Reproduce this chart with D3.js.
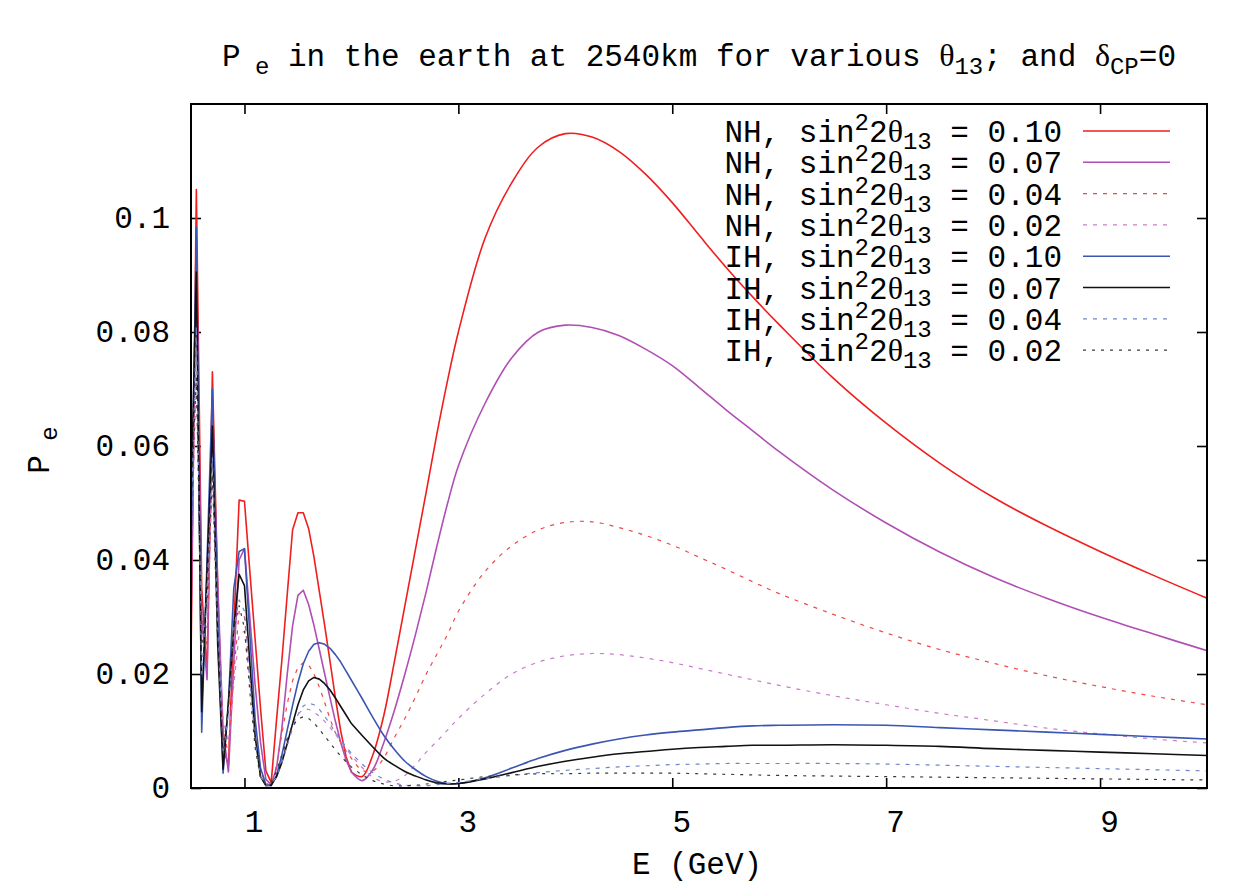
<!DOCTYPE html>
<html>
<head>
<meta charset="utf-8">
<script src="https://cdn.jsdelivr.net/npm/d3@7"></script>
<style>
  body { margin: 0; background: #fff; }
  text { font-family: 'Nimbus Mono PS', 'Courier New', 'Liberation Mono', monospace; white-space: pre; }
</style>
</head>
<body>
<div id="chart"></div>
<script>
const energy = [
  0.5, 0.55, 0.6, 0.65, 0.7, 0.75, 0.8, 0.85, 0.9, 0.95, 1.0, 1.05, 1.1, 1.15, 1.2, 1.25,
  1.3, 1.35, 1.4, 1.45, 1.5, 1.55, 1.6, 1.65, 1.7, 1.75, 1.8, 1.85, 1.9, 1.95, 2.0,
  2.1, 2.2, 2.3, 2.4, 2.5, 2.6, 2.7, 2.8, 2.9, 3.0,
  3.25, 3.5, 3.75, 4.0, 4.25, 4.5, 4.75, 5.0, 5.25, 5.5, 5.75, 6.0,
  6.5, 7.0, 7.5, 8.0, 8.5, 9.0, 9.5, 10
]

// P_e, normal hierarchy
const nh10 = [
  0.022, 0.105, 0.035, 0.020, 0.073, 0.035, 0.007, 0.004, 0.028, 0.0505, 0.0503, 0.038, 0.026, 0.014, 0.003, 0.001,
  0.012, 0.0225, 0.034, 0.0453, 0.0483, 0.0483, 0.0455, 0.0405, 0.0345, 0.0285, 0.0222, 0.0158, 0.0100, 0.0055, 0.0028,
  0.0020, 0.0058, 0.0125, 0.022, 0.032, 0.042, 0.052, 0.0622, 0.0716, 0.0800,
  0.0965, 0.1062, 0.1125, 0.1148, 0.1142, 0.1117, 0.1077, 0.1027, 0.0970, 0.0914, 0.0862, 0.0813,
  0.0720, 0.0640, 0.0570, 0.0510, 0.0460, 0.0415, 0.0373, 0.0333
]
const nh07 = [
  0.028, 0.094, 0.030, 0.019, 0.066, 0.036, 0.010, 0.0028, 0.022, 0.040, 0.042, 0.030, 0.018, 0.008, 0.0015, 0.0006,
  0.0035, 0.0105, 0.020, 0.0285, 0.0338, 0.0347, 0.0322, 0.0285, 0.0243, 0.020, 0.0158, 0.0117, 0.0080, 0.0049, 0.0028,
  0.0013, 0.0032, 0.0078, 0.0135, 0.020, 0.027, 0.0345, 0.0425, 0.050, 0.0565,
  0.0675, 0.0755, 0.0800, 0.0812, 0.0808, 0.0794, 0.0770, 0.0741, 0.0703, 0.0664, 0.0627, 0.0590,
  0.0523, 0.0465, 0.0414, 0.0370, 0.0333, 0.0300, 0.0270, 0.0241
]
const nh04 = [
  0.035, 0.083, 0.030, 0.025, 0.058, 0.030, 0.010, 0.006, 0.020, 0.031, 0.030, 0.020, 0.009, 0.003, 0.0008, 0.0005,
  0.004, 0.0095, 0.0148, 0.0188, 0.0212, 0.0220, 0.0216, 0.0200, 0.0177, 0.0150, 0.0121, 0.0097, 0.0080, 0.0065, 0.0052,
  0.0031, 0.0030, 0.0052, 0.0088, 0.0122, 0.016, 0.020, 0.0235, 0.027, 0.031,
  0.0380, 0.0425, 0.0453, 0.0466, 0.0467, 0.0457, 0.0443, 0.0426, 0.0405, 0.0384, 0.0362, 0.0341,
  0.0305, 0.0272, 0.0243, 0.0219, 0.0197, 0.0178, 0.0161, 0.0146
]
const nh02 = [
  0.040, 0.072, 0.030, 0.028, 0.055, 0.030, 0.012, 0.008, 0.018, 0.027, 0.0275, 0.019, 0.009, 0.003, 0.0007, 0.0004,
  0.002, 0.0052, 0.0085, 0.0112, 0.0130, 0.0138, 0.0138, 0.0133, 0.0126, 0.0117, 0.0106, 0.0094, 0.0082, 0.0069, 0.0057,
  0.0036, 0.0019, 0.0011, 0.0012, 0.0022, 0.0041, 0.0063, 0.0082, 0.0102, 0.0122,
  0.0165, 0.0200, 0.0221, 0.0232, 0.0236, 0.0234, 0.0228, 0.0220, 0.0210, 0.0200, 0.0190, 0.0180,
  0.0162, 0.0146, 0.0131, 0.0118, 0.0105, 0.0095, 0.0086, 0.0079
]

// P_e, inverted hierarchy
const ih10 = [
  0.040, 0.0984, 0.0098, 0.040, 0.070, 0.030, 0.0026, 0.015, 0.035, 0.0415, 0.042, 0.027, 0.012, 0.0035, 0.0006, 0.0004,
  0.0022, 0.0058, 0.0102, 0.0145, 0.0185, 0.0218, 0.0240, 0.0252, 0.0255, 0.0252, 0.0245, 0.0234, 0.0221, 0.0205, 0.0189,
  0.0157, 0.0124, 0.0093, 0.0068, 0.0047, 0.0032, 0.0020, 0.0012, 0.0008, 0.0008,
  0.0018, 0.0035, 0.0052, 0.0066, 0.0077, 0.0086, 0.0093, 0.0098, 0.0102, 0.0106, 0.0109, 0.0110,
  0.0111, 0.0110, 0.0106, 0.0102, 0.0098, 0.0094, 0.0090, 0.0086
]
const ih07 = [
  0.050, 0.0905, 0.0134, 0.038, 0.0635, 0.025, 0.0033, 0.015, 0.028, 0.0375, 0.0355, 0.022, 0.009, 0.002, 0.0004, 0.0005,
  0.002, 0.0045, 0.0078, 0.0113, 0.0146, 0.0172, 0.0188, 0.0194, 0.0191, 0.0183, 0.0172, 0.0158, 0.0143, 0.0128, 0.0113,
  0.0092, 0.0072, 0.0053, 0.0040, 0.0029, 0.0021, 0.0014, 0.0009, 0.0007, 0.0008,
  0.0016, 0.0027, 0.0038, 0.0047, 0.0054, 0.0060, 0.0064, 0.0068, 0.0071, 0.0073, 0.0075, 0.0075,
  0.0076, 0.0075, 0.0073, 0.0069, 0.0066, 0.0063, 0.0060, 0.0057
]
const ih04 = [
  0.045, 0.081, 0.020, 0.035, 0.058, 0.028, 0.006, 0.013, 0.028, 0.033, 0.031, 0.019, 0.008, 0.002, 0.0005, 0.0005,
  0.0021, 0.0045, 0.0075, 0.0105, 0.0129, 0.0144, 0.0149, 0.0146, 0.0138, 0.0126, 0.0112, 0.0098, 0.0085, 0.0072, 0.0061,
  0.0042, 0.0027, 0.0016, 0.0009, 0.0005, 0.0004, 0.0004, 0.0006, 0.0008, 0.0010,
  0.0016, 0.0022, 0.0027, 0.0031, 0.0034, 0.0037, 0.0039, 0.0041, 0.0042, 0.0043, 0.0043, 0.0043,
  0.0043, 0.0042, 0.0040, 0.0038, 0.0036, 0.0034, 0.0032, 0.0030
]
const ih02 = [
  0.050, 0.072, 0.025, 0.033, 0.055, 0.025, 0.007, 0.014, 0.028, 0.032, 0.028, 0.017, 0.007, 0.0018, 0.0006, 0.001,
  0.003, 0.0058, 0.0087, 0.0108, 0.0121, 0.0125, 0.0122, 0.0114, 0.0103, 0.0091, 0.0079, 0.0067, 0.0056, 0.0046, 0.0037,
  0.0023, 0.0013, 0.0007, 0.0004, 0.0004, 0.0005, 0.0007, 0.0009, 0.0012, 0.0014,
  0.0020, 0.0023, 0.0025, 0.0025, 0.0026, 0.0026, 0.0026, 0.0026, 0.0025, 0.0024, 0.0023, 0.0022,
  0.0021, 0.0020, 0.0019, 0.0018, 0.0017, 0.0016, 0.0015, 0.0014
]

// legend entries, in plot order
const hierarchy = ['NH', 'NH', 'NH', 'NH', 'IH', 'IH', 'IH', 'IH']
const sin2theta = ['0.10', '0.07', '0.04', '0.02', '0.10', '0.07', '0.04', '0.02']
const seriesValues = [nh10, nh07, nh04, nh02, ih10, ih07, ih04, ih02]

const xTicks = [1, 3, 5, 7, 9]
const yTicks = [0, 0.02, 0.04, 0.06, 0.08, 0.1]
const yTickLabels = ['0', '0.02', '0.04', '0.06', '0.08', '0.1']

// line styles (gnuplot-like)
const colors = ['#f01e1e', '#b04fb3', '#f04848', '#c97ccb', '#3a56b2', '#111111', '#6f86cc', '#3a3a3a']
const dashes = [null, null, '4,6', '4,6', null, null, '4,6', '3,6']
const widths = [1.6, 1.6, 1.2, 1.2, 1.6, 1.6, 1.2, 1.2]

const symbolFont = "'Liberation Serif', 'DejaVu Serif', serif"
const fs = 31
const subFs = 24

var margin = { top: 104, right: 45, bottom: 94, left: 191 },
  width = 1252 - margin.left - margin.right,
  height = 882 - margin.top - margin.bottom

var svgRoot = d3
  .select('#chart')
  .append('svg')
  .attr('width', 1252)
  .attr('height', 882)
  .style('background', '#fff')

var svg = svgRoot
  .append('g')
  .attr('transform', 'translate(' + margin.left + ',' + margin.top + ')')

var x = d3.scaleLinear().domain([0.5, 10]).range([0, width])
var y = d3.scaleLinear().domain([0, 0.12]).range([height, 0])

// clip curves to the frame
svg
  .append('clipPath')
  .attr('id', 'clip')
  .append('rect')
  .attr('width', width)
  .attr('height', height)

// bottom axis, ticks pointing inward
var gx = svg
  .append('g')
  .attr('transform', 'translate(0,' + height + ')')
  .call(
    d3.axisBottom(x).tickValues(xTicks).tickSize(-10).tickPadding(22).tickFormat(d3.format('d'))
  )
gx.selectAll('text').attr('x', 9)

// left axis
var gy = svg
  .append('g')
  .call(
    d3
      .axisLeft(y)
      .tickValues(yTicks)
      .tickSize(-10)
      .tickPadding(21)
      .tickFormat(function (d, i) {
        return yTickLabels[i]
      })
  )

// mirrored ticks on top and right
var gt = svg.append('g').call(d3.axisTop(x).tickValues(xTicks).tickSize(-10).tickFormat(''))
var gr = svg
  .append('g')
  .attr('transform', 'translate(' + width + ',0)')
  .call(d3.axisRight(y).tickValues(yTicks).tickSize(-10).tickFormat(''))

svg.selectAll('.domain').remove()
svg.selectAll('.tick line').attr('stroke', '#000').attr('stroke-width', 1.6)
svg
  .selectAll('.tick text')
  .attr('fill', '#000')
  .style('font-size', fs + 'px')
svgRoot.selectAll('g').attr('font-family', null).attr('font-size', null)

// curves: straight segments over the densely sampled low-energy part,
// smooth spline over the coarser part above 2 GeV
var split = energy.indexOf(2.0)
var pts = function (vals) {
  return vals.map(function (v, i) {
    return [energy[i], v]
  })
}
var lineLow = d3
  .line()
  .x(function (d) {
    return x(d[0])
  })
  .y(function (d) {
    return y(d[1])
  })
var lineHigh = d3
  .line()
  .x(function (d) {
    return x(d[0])
  })
  .y(function (d) {
    return y(d[1])
  })
  .curve(d3.curveCatmullRom.alpha(0.5))

var curves = svg.append('g').attr('clip-path', 'url(#clip)')
seriesValues.forEach(function (vals, i) {
  var p = pts(vals)
  var d = lineLow(p.slice(0, split + 1)) + lineHigh(p.slice(split)).replace(/^M/, 'L')
  curves
    .append('path')
    .attr('fill', 'none')
    .attr('stroke', colors[i])
    .attr('stroke-width', widths[i])
    .attr('stroke-dasharray', dashes[i])
    .attr('stroke-linejoin', 'round')
    .attr('d', d)
})

// frame
svg
  .append('rect')
  .attr('width', width)
  .attr('height', height)
  .attr('fill', 'none')
  .attr('stroke', '#000')
  .attr('stroke-width', 2)

// legend
var legend = svg.append('g')
seriesValues.forEach(function (vals, i) {
  var ly = 27 + i * 31.3
  var t = legend
    .append('text')
    .attr('x', 871)
    .attr('y', ly + 11)
    .attr('text-anchor', 'end')
    .style('font-size', fs + 'px')
  t.append('tspan').text(hierarchy[i] + ', sin')
  t.append('tspan').attr('dy', -12).style('font-size', subFs + 'px').text('2')
  t.append('tspan').attr('dy', 12).text('2')
  t.append('tspan').style('font-family', symbolFont).style('font-size', '32px').text('θ')
  t.append('tspan').attr('dy', 7).style('font-size', subFs + 'px').text('13')
  t.append('tspan').attr('dy', -7).text(' = ' + sin2theta[i])

  legend
    .append('line')
    .attr('x1', 892)
    .attr('x2', 979)
    .attr('y1', ly)
    .attr('y2', ly)
    .attr('stroke', colors[i])
    .attr('stroke-width', widths[i])
    .attr('stroke-dasharray', dashes[i])
})

// title
var title = svgRoot
  .append('text')
  .attr('x', 699)
  .attr('y', 66)
  .attr('text-anchor', 'middle')
  .style('font-size', fs + 'px')
title.append('tspan').text('P')
title.append('tspan').attr('dy', 8).style('font-size', subFs + 'px').text(' e')
title.append('tspan').attr('dy', -8).text(' in the earth at 2540km for various ')
title.append('tspan').style('font-family', symbolFont).style('font-size', '32px').text('θ')
title.append('tspan').attr('dy', 8).style('font-size', subFs + 'px').text('13')
title.append('tspan').attr('dy', -8).text('; and ')
title.append('tspan').style('font-family', symbolFont).style('font-size', '32px').text('δ')
title.append('tspan').attr('dy', 8).style('font-size', subFs + 'px').text('CP')
title.append('tspan').attr('dy', -8).text('=0')

// axis labels
svgRoot
  .append('text')
  .attr('x', 697)
  .attr('y', 874)
  .attr('text-anchor', 'middle')
  .style('font-size', fs + 'px')
  .text('E (GeV)')

var ylab = svgRoot
  .append('text')
  .attr('transform', 'translate(49,450) rotate(-90)')
  .attr('text-anchor', 'middle')
  .style('font-size', fs + 'px')
ylab.append('tspan').text('P')
ylab.append('tspan').attr('dy', 8).style('font-size', subFs + 'px').text(' e')
</script>
</body>
</html>
